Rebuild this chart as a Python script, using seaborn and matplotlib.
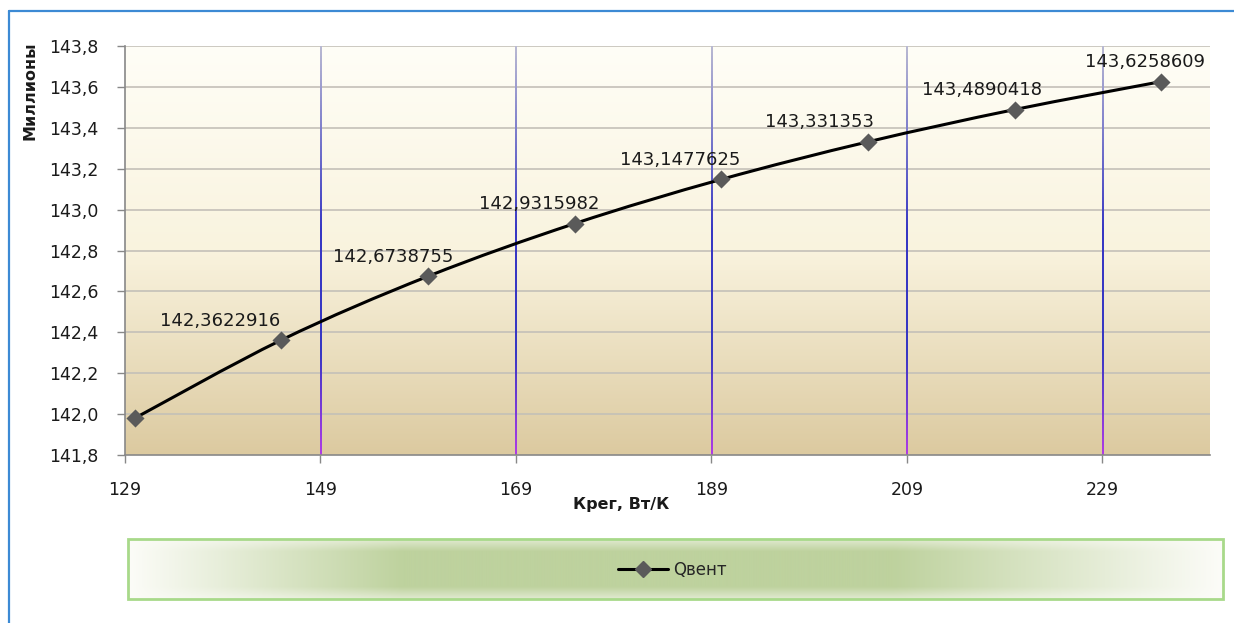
import numpy as np
import matplotlib
matplotlib.use("Agg")
import matplotlib.pyplot as plt
import seaborn as sb
from matplotlib.path import Path
from matplotlib.patches import PathPatch, Rectangle
from matplotlib.lines import Line2D

# data
k_reg = [130, 145, 160, 175, 190, 205, 220, 235]
q_vent = [141.98, 142.3622916, 142.6738755, 142.9315982,
          143.1477625, 143.331353, 143.4890418, 143.6258609]
x_ticks = [129, 149, 169, 189, 209, 229]
y_ticks = [141.8, 142.0, 142.2, 142.4, 142.6, 142.8, 143.0, 143.2, 143.4, 143.6, 143.8]
series_name = "Qвент"
x_title = "Крег, Вт/К"
y_title = "Миллионы"

sb.set_style("white")
plt.rcParams['font.family'] = ['DejaVu Sans']

W, H = 1234, 623
fig = plt.figure(figsize=(W / 100, H / 100), dpi=100)
fig.patch.set_facecolor("white")

# outer blue frame (top + left only visible)
fig.add_artist(Line2D([9 / W, 1], [1 - 11 / H, 1 - 11 / H], color="#3c8ad4", lw=1.6))
fig.add_artist(Line2D([9 / W, 9 / W], [0, 1 - 11 / H], color="#3c8ad4", lw=1.6))

ax = fig.add_axes([125 / W, 1 - 455 / H, (1210 - 125) / W, (455 - 46) / H])
xmin, xmax = 129, 240
ymin, ymax = y_ticks[0], y_ticks[-1]

# plot area gradient
t = np.linspace(0, 1, 256)[:, None]
top = np.array([255, 254, 247]) / 255
mid = np.array([249, 243, 222]) / 255
bot = np.array([220, 202, 160]) / 255
grad = np.where(t < 0.5, top + (mid - top) * (t / 0.5), mid + (bot - mid) * ((t - 0.5) / 0.5))
grad = np.repeat(grad[:, None, :], 2, axis=1)
ax.imshow(grad, extent=[0, 1, 0, 1], transform=ax.transAxes, aspect="auto", zorder=0)

# horizontal gridlines
for y in y_ticks[1:]:
    ax.axhline(y, color="#c4c0b8", lw=1.2, zorder=1)

# vertical gridlines: gray -> blue -> purple, drawn as 1px gradient strips
c_top = np.array([185, 185, 210]) / 255
c_mid = np.array([55, 55, 195]) / 255
c_bot = np.array([175, 60, 230]) / 255
f = np.linspace(0, 1, 200)[:, None]
vcol = np.where(f < 0.45, c_top + (c_mid - c_top) * (f / 0.45),
                np.where(f < 0.75, c_mid, c_mid + (c_bot - c_mid) * ((f - 0.75) / 0.25)))
vcol = vcol[:, None, :]
px_w = (xmax - xmin) / (1210 - 125)  # data units per pixel
for x in x_ticks[1:]:
    ax.imshow(vcol, extent=[x - 0.7 * px_w, x + 0.5 * px_w, ymin, ymax], aspect="auto",
              interpolation="nearest", zorder=2)

# smoothed series line (Catmull-Rom drawn as bezier curves)
pts = np.column_stack([np.array(k_reg, dtype=float), np.array(q_vent, dtype=float)])
verts = [pts[0]]
codes = [Path.MOVETO]
n = len(pts)
for i in range(n - 1):
    p0 = pts[max(i - 1, 0)]
    p1 = pts[i]
    p2 = pts[i + 1]
    p3 = pts[min(i + 2, n - 1)]
    verts += [p1 + (p2 - p0) / 6, p2 - (p3 - p1) / 6, p2]
    codes += [Path.CURVE4] * 3
ax.add_patch(PathPatch(Path(verts, codes), facecolor="none", edgecolor="black", lw=2.2, zorder=3))

sb.scatterplot(x=k_reg, y=q_vent, marker="D", s=85, color="#5a5a5a", edgecolor="#5a5a5a",
               linewidth=0, ax=ax, zorder=4)

# data labels (first point has none in the original)
x_shift = [0, -61, -35, -35, -41, -48, -33, -16]
for i, (x, y) in enumerate(zip(k_reg, q_vent)):
    if i == 0:
        continue
    ax.annotate(str(y).replace(".", ","), (x, y), xytext=(x_shift[i] * 0.72, 14),
                textcoords="offset points", ha="center", va="center",
                fontsize=13, color="#1a1a1a", zorder=5)

ax.set_xlim(xmin, xmax)
ax.set_ylim(ymin, ymax)
ax.set_xticks(x_ticks)
ax.set_yticks(y_ticks)
ax.set_xticklabels([str(v) for v in x_ticks])
ax.set_yticklabels([f"{v:.1f}".replace(".", ",") for v in y_ticks])
ax.tick_params(axis="both", direction="out", length=6, width=1, color="#888888",
               labelsize=12.5, labelcolor="#1a1a1a", left=True, bottom=True)
ax.tick_params(axis="x", pad=13)
ax.tick_params(axis="y", pad=13)
for s in ["top", "right"]:
    ax.spines[s].set_visible(False)
for s in ["left", "bottom"]:
    ax.spines[s].set_color("#888888")
    ax.spines[s].set_linewidth(1.2)
ax.grid(False)
ax.set_xlabel("")
ax.set_ylabel("")

fig.text(621 / W, 1 - 505 / H, x_title, ha="center", va="center", fontsize=11.5,
         fontweight="bold", color="#1a1a1a")
fig.text(30 / W, 1 - 91 / H, y_title, ha="center", va="center", rotation=90,
         fontsize=11.5, fontweight="bold", color="#1a1a1a")

# legend box with green gradient
lax = fig.add_axes([128 / W, 1 - 599 / H, (1223 - 128) / W, (599 - 539) / H])
lax.set_xlim(0, 1)
lax.set_ylim(0, 1)
xx = np.linspace(0, 1, 400)
hx = np.clip(np.minimum(xx / 0.25, (1 - xx) / 0.3), 0, 1)
yy = np.linspace(0, 1, 60)
vy = np.clip(np.minimum(yy / 0.2, (1 - yy) / 0.2), 0, 1) * 0.55 + 0.45
w = vy[:, None] * hx[None, :]
white = np.array([252, 252, 248]) / 255
green = np.array([190, 210, 158]) / 255
lg = white + (green - white) * w[:, :, None]
lax.imshow(lg, extent=[0, 1, 0, 1], aspect="auto", zorder=0)
lax.add_patch(Rectangle((0, 0), 1, 1, transform=lax.transAxes, fill=False,
                        edgecolor="#a8d98a", lw=2.0, zorder=2, clip_on=False))
lax.axis("off")
handle = Line2D([], [], color="black", lw=2.2, marker="D", markersize=8,
                markerfacecolor="#5a5a5a", markeredgecolor="#5a5a5a")
lax.legend([handle], [series_name], loc="center", bbox_to_anchor=(672 / W, 1 - 570 / H),
           bbox_transform=fig.transFigure, frameon=False, fontsize=12,
           handlelength=3.0, handletextpad=0.3)

fig.savefig("out.png", dpi=100)
